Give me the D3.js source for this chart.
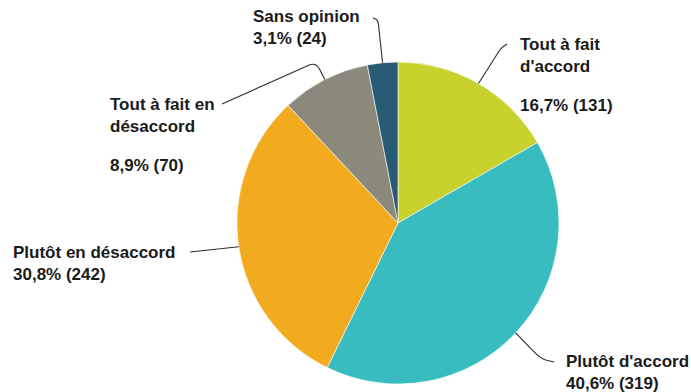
<!DOCTYPE html>
<html>
<head>
<meta charset="utf-8">
<script src="https://cdn.jsdelivr.net/npm/d3@7"></script>
<style>
  html, body { margin: 0; padding: 0; background: #ffffff; }
  svg { display: block; }
  .lbl { font-family: "Liberation Sans", Arial, sans-serif; font-weight: bold; font-size: 17px; fill: #1b1b1b; }
</style>
</head>
<body>
<svg id="chart" width="691" height="392"></svg>
<script>
// Answers, in clockwise order starting from 12 o'clock
const categories = [
  "Tout à fait d'accord",
  "Plutôt d'accord",
  "Plutôt en désaccord",
  "Tout à fait en désaccord",
  "Sans opinion"
];
const counts = [131, 319, 242, 70, 24];
const percentLabels = ["16,7%", "40,6%", "30,8%", "8,9%", "3,1%"];
const colors = ["#c9d22c", "#39bcc0", "#f2aa1f", "#8a897b", "#295c74"];

// Label text lines (null = blank line)
const labelLines = [
  ["Tout à fait", "d'accord", null, "{v}"],
  ["Plutôt d'accord", "{v}"],
  ["Plutôt en désaccord", "{v}"],
  ["Tout à fait en", "désaccord", null, "{v}"],
  ["Sans opinion", "{v}"]
];
// Label block placement: x, first baseline, leader start, leader elbow, corner radius
const labelLayout = [
  { x: 520, y: 50,  from: [507, 44],  elbow: [501, 48],  r: 5 },
  { x: 566, y: 367, from: [554, 362], elbow: [541, 359], r: 10 },
  { x: 13,  y: 258, from: [190, 252], elbow: null,       r: 0 },
  { x: 110, y: 110, from: [222, 104], elbow: [316, 62],  r: 8 },
  { x: 253, y: 22,  from: [373, 18],  elbow: [378, 20],  r: 4 }
];

const cx = 398, cy = 223, radius = 161;
const lineGap = 21.5;

const svg = d3.select("#chart");
const g = svg.append("g").attr("transform", `translate(${cx},${cy})`);

const pie = d3.pie().sort(null).value(d => d);
const arcs = pie(counts);
const arc = d3.arc().innerRadius(0).outerRadius(radius);

g.selectAll("path.slice")
  .data(arcs)
  .join("path")
  .attr("class", "slice")
  .attr("d", arc)
  .attr("fill", (d, i) => colors[i])
  .attr("stroke", "#ffffff")
  .attr("stroke-width", 0.6);

// Point at distance t from a toward b
function toward(a, b, t) {
  const dx = b[0] - a[0], dy = b[1] - a[1];
  const len = Math.hypot(dx, dy) || 1;
  const k = Math.min(t, len * 0.5) / len;
  return [a[0] + dx * k, a[1] + dy * k];
}

// Leader lines from each label to the middle of its slice's rim
const rimArc = d3.arc().innerRadius(radius).outerRadius(radius);
arcs.forEach((d, i) => {
  const [px, py] = rimArc.centroid(d);
  const end = [cx + px, cy + py];
  const lay = labelLayout[i];
  const p = d3.path();
  p.moveTo(lay.from[0], lay.from[1]);
  if (lay.elbow) {
    const a = toward(lay.elbow, lay.from, lay.r);
    const b = toward(lay.elbow, end, lay.r);
    p.lineTo(a[0], a[1]);
    p.quadraticCurveTo(lay.elbow[0], lay.elbow[1], b[0], b[1]);
  }
  p.lineTo(end[0], end[1]);
  svg.append("path")
    .attr("d", p.toString())
    .attr("fill", "none")
    .attr("stroke", "#2e2e2e")
    .attr("stroke-width", 1.1);
});

// Label text blocks
labelLines.forEach((lines, i) => {
  const lay = labelLayout[i];
  const value = `${percentLabels[i]} (${counts[i]})`;
  const text = svg.append("text")
    .attr("class", "lbl")
    .attr("x", lay.x)
    .attr("y", lay.y);
  let dy = 0;
  lines.forEach(ln => {
    if (ln === null) { dy += lineGap * 0.85; return; }
    text.append("tspan")
      .attr("x", lay.x)
      .attr("y", lay.y + dy)
      .text(ln === "{v}" ? value : ln);
    dy += lineGap;
  });
});
</script>
</body>
</html>
